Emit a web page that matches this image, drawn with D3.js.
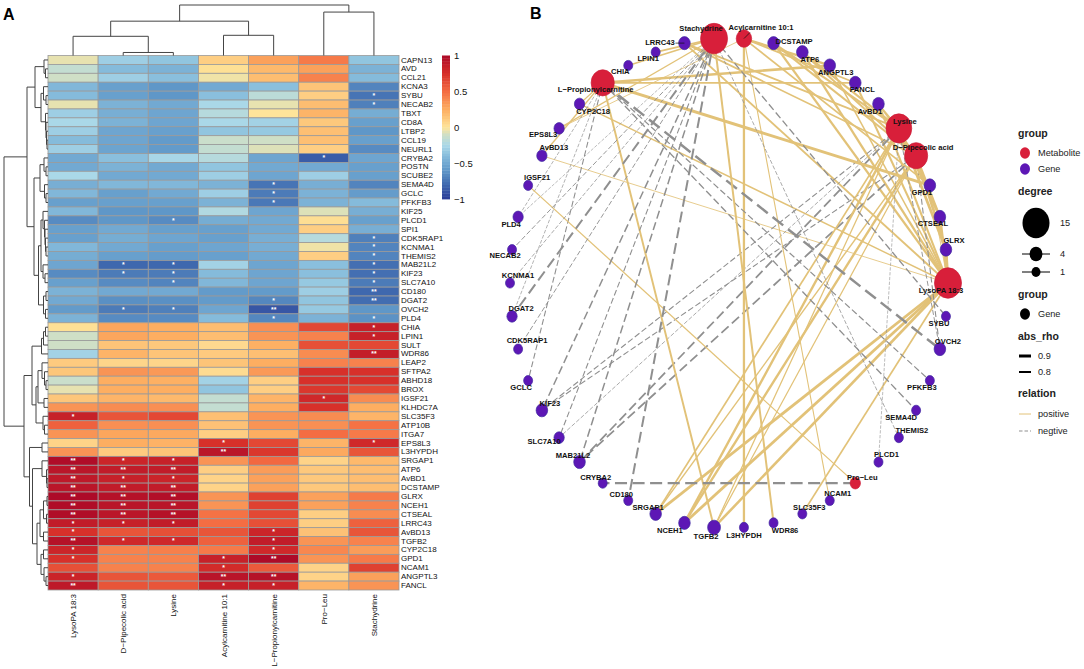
<!DOCTYPE html>
<html><head><meta charset="utf-8">
<script src="https://cdn.jsdelivr.net/npm/d3@7"></script>
<style>html,body{margin:0;background:#fff}svg{display:block}text{font-family:"Liberation Sans",Arial,sans-serif}</style>
</head><body><svg id="c" width="1084" height="669"></svg>
<script>
const metabolites=["LysoPA 18:3","D−Pipecolic acid","Lysine","Acylcarnitine 10:1","L−Propionylcarnitine","Pro−Leu","Stachydrine"];
const genes=["CAPN13","AVD","CCL21","KCNA3","SYBU","NECAB2","TBXT","CD8A","LTBP2","CCL19","NEURL1","CRYBA2","POSTN","SCUBE2","SEMA4D","GCLC","PFKFB3","KIF25","PLCD1","SPI1","CDK5RAP1","KCNMA1","THEMIS2","MAB21L2","KIF23","SLC7A10","CD180","DGAT2","OVCH2","PLD4","CHIA","LPIN1","SULT","WDR86","LEAP2","SFTPA2","ABHD18","BROX","IGSF21","KLHDC7A","SLC35F3","ATP10B","ITGA7","EPS8L3","L3HYPDH","SRGAP1","ATP6","AvBD1","DCSTAMP","GLRX","NCEH1","CTSEAL","LRRC43","AvBD13","TGFB2","CYP2C18","GPD1","NCAM1","ANGPTL3","FANCL"];
const rho=[
[-.05,-.3,-.35,.1,.3,.45,-.35],[-.15,-.4,-.45,.02,.2,.3,-.45],[-.1,-.3,-.38,-.03,.18,.42,-.4],
[-.42,-.55,-.6,-.5,-.38,.15,-.68],[-.4,-.55,-.6,-.38,-.18,.1,-.75],[-.05,-.45,-.5,-.25,-.05,.18,-.7],
[-.3,-.47,-.52,-.2,0,.22,-.48],[-.25,-.45,-.52,-.25,-.28,.13,-.55],[-.3,-.52,-.55,-.35,-.33,.17,-.6],
[-.4,-.52,-.58,-.12,-.1,.17,-.55],[-.3,-.53,-.58,-.15,-.07,.1,-.65],[-.5,-.38,-.26,-.2,-.52,-.85,-.52],
[-.5,-.45,-.5,-.35,-.5,-.5,-.55],[-.25,-.5,-.5,-.3,-.52,-.3,-.55],[-.47,-.42,-.42,-.45,-.75,-.47,-.68],
[-.42,-.55,-.5,-.3,-.72,-.45,-.57],[-.55,-.55,-.55,-.45,-.73,-.45,-.4],[-.42,-.6,-.6,-.22,-.52,-.07,-.47],
[-.65,-.6,-.65,-.48,-.5,.03,-.55],[-.55,-.5,-.55,-.55,-.5,.1,-.47],[-.55,-.48,-.52,-.55,-.47,-.2,-.7],
[-.42,-.5,-.55,-.52,-.47,-.03,-.68],[-.48,-.55,-.57,-.55,-.5,.1,-.68],[-.52,-.8,-.8,-.28,-.52,-.38,-.77],
[-.65,-.72,-.72,-.4,-.52,-.38,-.77],[-.55,-.65,-.68,-.42,-.52,-.33,-.72],[-.45,-.5,-.5,-.58,-.58,-.3,-.8],
[-.5,-.63,-.63,-.58,-.67,-.35,-.78],[-.58,-.72,-.7,-.52,-.88,-.33,-.6],[-.45,-.65,-.65,-.4,-.67,-.45,-.62],
[.02,.28,.25,.18,.37,.65,.85],[-.1,.28,.25,.18,.35,.42,.85],[-.1,.15,.13,.05,.24,.62,.65],
[-.28,.22,.15,.12,.17,.38,.87],[.12,.07,.07,.15,.25,.42,.42],[.14,.35,.33,.04,.33,.75,.75],
[-.12,.25,.24,-.28,.1,.75,.75],[-.05,.25,.25,-.35,.1,.72,.65],[.14,.22,.2,-.15,.22,.8,.38],
[.35,.38,.37,-.15,.25,.75,.25],[.85,.6,.65,.17,.35,.38,.22],[.55,.37,.37,.16,.35,.37,.48],
[.35,.28,.27,.1,.25,.5,.45],[.08,.25,.23,.75,.65,.22,.8],[.35,.12,.15,.92,.72,.27,.6],
[.98,.82,.85,.35,.52,.08,.2],[.92,.88,.88,.1,.32,.13,.18],[.9,.85,.83,.08,.3,.13,.18],
[.92,.88,.88,.08,.3,.13,.18],[1,.95,.97,.35,.68,.3,.45],[.98,.93,.93,.35,.68,.3,.42],
[.98,.92,.95,.48,.65,.1,.38],[.88,.85,.88,.5,.62,.1,.55],[.75,.6,.62,.6,.82,.16,.6],
[.95,.8,.8,.55,.88,.35,.42],[.82,.42,.43,.45,.8,.4,.32],[.75,.42,.42,.85,1,.35,.45],
[.62,.42,.42,.78,.58,.08,.68],[.83,.6,.58,.93,.95,.08,.3],[.9,.6,.6,.85,.85,.22,.35]];
const sigLevels=["0000000","0000000","0000000","0000000","0000001","0000001","0000000","0000000","0000000","0000000","0000000","0000010","0000000","0000000","0000100","0000100","0000100","0000000","0010000","0000000","0000001","0000001","0000001","0110001","0110001","0010001","0000002","0000102","0110200","0000101","0000001","0000001","0000000","0000002","0000000","0000000","0000000","0000000","0000010","0000000","1000000","0000000","0000000","0001001","0002000","2110000","2220000","2110000","2220000","2220000","2220000","2220000","1110000","1000100","2110100","1000100","1001200","0001000","1002200","2001100"];
const colorStops=[-1,-.8,-.6,-.4,-.25,-.1,0,.25,.5,.75,1];
const colorValues=["#2a3b97","#3f68ae","#5f97c8","#85bbdb","#aad8e8","#cfdfc6","#fee49a","#fdae61","#f46d43","#d7302a","#ad0a28"];
const colTree=[50,[34,[19,0,[3,1,2]],[20,3,4]],[43,5,6]];
const rowTree=[44,[21,[13,[4,0,[2.5,1,2]],[7,[4.5,3,[2,4,5]],[2.5,6,[2,7,[1.5,8,[1,9,10]]]]]],[14,[8,[4,11,[2,12,13]],[3.5,14,[2,15,16]]],[9.5,[7,[5,17,[3.5,18,[3,19,[2.5,20,[2,21,22]]]]],[5,23,[3,24,25]]],[4.5,[2,26,27],[2.5,28,29]]]]],[24,[16,[6.5,[4.5,[2.5,30,31],32],33],[12,[10,[6,34,[3.5,35,[2,36,37]]],[4,38,39]],[5,40,[3.5,41,42]]]],[18.5,[6,43,44],[15.5,[6,45,[1.5,46,[1,47,48]]],[11,[8,[4.5,[1,49,50],[1.5,51,52]],[4.5,53,54]],[7,[4.5,55,56],[4,57,[2,58,59]]]]]]]];
const networkOrder=["LysoPA 18:3","SYBU","OVCH2","PFKFB3","SEMA4D","THEMIS2","PLCD1","Pro−Leu","NCAM1","SLC35F3","WDR86","L3HYPDH","TGFB2","NCEH1","SRGAP1","CD180","CRYBA2","MAB21L2","SLC7A10","KIF23","GCLC","CDK5RAP1","DGAT2","KCNMA1","NECAB2","PLD4","IGSF21","AvBD13","EPS8L3","CYP2C18","L−Propionylcarnitine","CHIA","LPIN1","LRRC43","Stachydrine","Acylcarnitine 10:1","DCSTAMP","ATP6","ANGPTL3","FANCL","AvBD1","Lysine","D−Pipecolic acid","GPD1","CTSEAL","GLRX"];
const labelShiftX=[-7,-7,8,-8,-15,13,8,7,8,7,11.5,0,-8,-14.5,-7.5,-7,-7,-6.5,-15,8,-7,9,9,8,-7,-7,9,12,-16,13.5,-7,-8,-7.5,-24.5,-13,17,20.5,7.5,6,7,-8.5,6,7,-8,-7,8];
const labelShiftY=[7,7,-8,7,7,-7,-8,-6,-7.5,-7,7,7.5,8.5,7,-7,-6.5,-6,-7,4,-7,7,-8.5,-8,-8,6,7.5,-8,-8,6,7,6,5.5,6,-1,-10,-11,-2,7,6.5,6,7,-7,-8,7,6.5,-9];
const colorbarTicks=[1,.5,0,-.5,-1];
const degreeLegend=[15,4,1];
const rhoLegend=[.9,.8];

const svg=d3.select("#c");
const color=d3.scaleLinear().domain(colorStops).range(colorValues).clamp(true);
const minus=s=>String(s).replace("-","−");

// Panel A
const hx=d3.scaleBand().domain(metabolites).range([48,399]);
const hy=d3.scaleBand().domain(genes).range([55.5,590]);
const A=svg.append("g");
metabolites.forEach((m,j)=>genes.forEach((g,i)=>{
  A.append("rect").attr("x",hx(m)).attr("y",hy(g)).attr("width",hx.bandwidth()).attr("height",hy.bandwidth())
   .attr("fill",color(rho[i][j])).attr("stroke","#9a9a9a").attr("stroke-width",.8);
  const n=+sigLevels[i][j];
  if(n) A.append("text").attr("x",hx(m)+hx.bandwidth()/2).attr("y",hy(g)+hy.bandwidth()/2+2.4)
    .attr("text-anchor","middle").attr("font-size",6.8).attr("font-weight","bold").attr("fill","#fff").text("*".repeat(n));
}));
const rowAxis=d3.axisRight(hy).tickSize(0).tickPadding(2);
A.append("g").attr("transform","translate(399,0)").call(rowAxis).call(g=>g.select(".domain").remove())
 .selectAll("text").attr("font-size",8).attr("fill","#111").style("font-family",'"Liberation Sans",Arial,sans-serif');
const colAxis=d3.axisBottom(hx).tickSize(0).tickPadding(0);
A.append("g").attr("transform","translate(0,590)").call(colAxis).call(g=>g.select(".domain").remove())
 .selectAll("text").attr("font-size",8).attr("fill","#111").attr("text-anchor","end").attr("dy",0)
 .style("font-family",'"Liberation Sans",Arial,sans-serif')
 .attr("transform","translate(3,4) rotate(-90)").attr("x",0).attr("y",0);

// dendrograms: [height,left,right]
function walk(node,pos,out){
  if(typeof node==="number") return {p:pos(node),h:0};
  const a=walk(node[1],pos,out),b=walk(node[2],pos,out);
  out.push({h:node[0],a,b});
  return {p:(a.p+b.p)/2,h:node[0]};
}
const ctOut=[];walk(colTree,i=>hx(metabolites[i])+hx.bandwidth()/2,ctOut);
const ch=d3.scaleLinear().domain([0,50]).range([55.5,5]);
A.selectAll(".ct").data(ctOut).join("path").attr("fill","none").attr("stroke","#444").attr("stroke-width",1)
 .attr("d",d=>`M${d.a.p},${ch(d.a.h)}V${ch(d.h)}H${d.b.p}V${ch(d.b.h)}`);
const rtOut=[];walk(rowTree,i=>hy(genes[i])+hy.bandwidth()/2,rtOut);
const rh=d3.scaleLinear().domain([0,44]).range([48,4]);
A.selectAll(".rt").data(rtOut).join("path").attr("fill","none").attr("stroke","#444").attr("stroke-width",1)
 .attr("d",d=>`M${rh(d.a.h)},${d.a.p}H${rh(d.h)}V${d.b.p}H${rh(d.b.h)}`);

// colour bar
const cb=d3.scaleLinear().domain([-1,1]).range([199,55.5]);
const cbSteps=d3.range(-1,1,.04);
A.selectAll(".cb").data(cbSteps).join("rect").attr("x",442).attr("width",8)
 .attr("y",d=>cb(d+.04)).attr("height",d=>cb(d)-cb(d+.04)+.4).attr("fill",d=>color(d+.02));
A.append("g").attr("transform","translate(450,0)").call(d3.axisRight(cb).tickValues(colorbarTicks).tickSize(0).tickPadding(4).tickFormat(d=>minus(d)))
 .call(g=>g.select(".domain").remove()).selectAll("text").attr("font-size",9.5).attr("fill","#111").style("font-family",'"Liberation Sans",Arial,sans-serif');

svg.append("text").attr("x",3).attr("y",20).attr("font-size",16).attr("font-weight","bold").text("A");
svg.append("text").attr("x",530).attr("y",19).attr("font-size",16).attr("font-weight","bold").text("B");

// Panel B
const edges=[];
metabolites.forEach((m,j)=>genes.forEach((g,i)=>{
  if(+sigLevels[i][j]) edges.push({m,g,v:rho[i][j],s:+sigLevels[i][j]});
}));
const degree=new Map();
edges.forEach(e=>{degree.set(e.m,(degree.get(e.m)||0)+1);degree.set(e.g,(degree.get(e.g)||0)+1);});
const angle=d3.scaleLinear().domain([0,networkOrder.length]).range([0,2*Math.PI]);
const nx=i=>729+219*Math.cos(angle(i)), ny=i=>283+245*Math.sin(angle(i));
const idx=new Map(networkOrder.map((n,i)=>[n,i]));
const size=d3.scaleLinear().domain([1,15]).range([4.5,13.5]);
const widthBase=d3.scalePow().exponent(1.4).domain([.72,1]).range([.6,3]).clamp(true);
// the blue end of the colour ramp reads about .06 weaker than the edge weight it encodes
const width=d=>{const w=widthBase(Math.abs(d.v)+(d.v<0?.06:0));return d.s===2?Math.max(w,2):w;};
const gold="#e2c278",gray="#8f8f8f";
const B=svg.append("g");
B.selectAll(".e").data(edges).join("line")
 .attr("x1",d=>nx(idx.get(d.m))).attr("y1",d=>ny(idx.get(d.m)))
 .attr("x2",d=>nx(idx.get(d.g))).attr("y2",d=>ny(idx.get(d.g)))
 .attr("stroke",d=>d.v>0?gold:gray)
 .attr("stroke-width",width)
 .attr("stroke-dasharray",d=>{if(d.v>0)return null;const w=width(d);return `${w*5.5} ${w*2.5}`;});
const isMet=n=>metabolites.includes(n);
B.selectAll(".n").data(networkOrder).join("ellipse")
 .attr("cx",(d,i)=>nx(i)).attr("cy",(d,i)=>ny(i))
 .attr("rx",d=>size(degree.get(d))).attr("ry",d=>size(degree.get(d))*1.13)
 .attr("fill",d=>isMet(d)?"#d81f3a":"#5d17b5").attr("stroke",d=>isMet(d)?"#cc1e3a":"#3f2aa0").attr("stroke-width",.7);
B.selectAll(".l").data(networkOrder).join("text")
 .attr("x",(d,i)=>nx(i)+labelShiftX[i]).attr("y",(d,i)=>ny(i)+labelShiftY[i]+2.7)
 .attr("text-anchor","middle").attr("font-size",7.6).attr("font-weight","bold").attr("fill","#111").text(d=>d);
// repel leader segments
[["Acylcarnitine 10:1",6,-6],["LRRC43",-9,0]].forEach(([n,dx,dy])=>{const i=idx.get(n);
  B.append("line").attr("x1",nx(i)).attr("y1",ny(i)).attr("x2",nx(i)+dx).attr("y2",ny(i)+dy).attr("stroke","#111").attr("stroke-width",.7);});

// legend
const L=svg.append("g");
const title=(t,y)=>L.append("text").attr("x",1018).attr("y",y+3.5).attr("font-size",10.5).attr("font-weight","bold").attr("fill","#222").text(t);
const lab=(t,x,y)=>L.append("text").attr("x",x).attr("y",y+3).attr("font-size",9.2).attr("fill","#222").text(t);
title("group",133);
[["Metabolite","#d81f3a",153],["Gene","#5d17b5",169]].forEach(([t,c,y])=>{
  L.append("ellipse").attr("cx",1025).attr("cy",y).attr("rx",5).attr("ry",5.7).attr("fill",c);lab(t,1038,y);});
title("degree",191);
[223,254,272].forEach((y,i)=>{
  const d=degreeLegend[i];
  if(i>0)L.append("line").attr("x1",1022).attr("x2",1050).attr("y1",y).attr("y2",y).attr("stroke","#000").attr("stroke-width",1);
  L.append("ellipse").attr("cx",1036).attr("cy",y).attr("rx",size(d)).attr("ry",size(d)*1.13).attr("fill","#000");
  lab(d,1060,y);});
title("group",294);
L.append("ellipse").attr("cx",1025).attr("cy",314).attr("rx",5).attr("ry",5.7).attr("fill","#000");lab("Gene",1038,314);
title("abs_rho",336);
[356,372].forEach((y,i)=>{L.append("line").attr("x1",1019).attr("x2",1031).attr("y1",y).attr("y2",y).attr("stroke","#000").attr("stroke-width",i?2:3);lab(rhoLegend[i],1038,y);});
title("relation",393);
L.append("line").attr("x1",1019).attr("x2",1031).attr("y1",414).attr("y2",414).attr("stroke",gold).attr("stroke-width",1);lab("positive",1038,414);
L.append("line").attr("x1",1019).attr("x2",1031).attr("y1",431).attr("y2",431).attr("stroke",gray).attr("stroke-width",1).attr("stroke-dasharray","3.5 2");lab("negtive",1038,431);
</script></body></html>
